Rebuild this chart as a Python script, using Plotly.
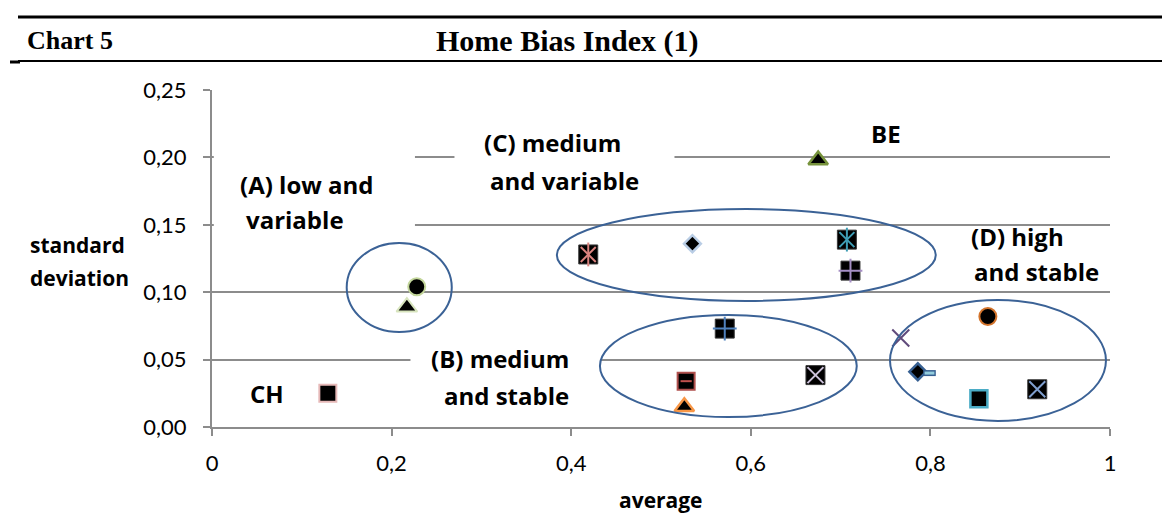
import plotly.graph_objects as go

# Home Bias Index: average vs standard deviation per country
labels = ["CH", "A1", "A2", "BE", "C1", "C2", "C3", "C4", "B1", "B2", "B3", "B4",
          "D1", "D2", "D3", "D4", "D5", "D6"]
average = [0.129, 0.228, 0.217, 0.675, 0.419, 0.535, 0.707, 0.711, 0.571, 0.528,
           0.526, 0.672, 0.767, 0.864, 0.786, 0.799, 0.854, 0.919]
std_dev = [0.025, 0.104, 0.089, 0.198, 0.128, 0.136, 0.139, 0.116, 0.073, 0.034,
           0.015, 0.0385, 0.066, 0.082, 0.041, 0.040, 0.021, 0.028]

x_ticks = [0, 0.2, 0.4, 0.6, 0.8, 1]
y_ticks = [0, 0.05, 0.10, 0.15, 0.20, 0.25]

# Marker styles: base marker, optional overlay glyphs drawn on top
styles = {
    "CH": dict(base=("square", 17, "#e6b9b8", 2)),
    "A1": dict(base=("circle", 17, "#c3d69b", 2)),
    "A2": dict(base=("triangle-up", 18, "#d7e4bd", 2)),
    "BE": dict(base=("triangle-up", 17, "#77933c", 2.5)),
    "C1": dict(base=("square", 19, "#3a3a3a", 1),
               over=[("x-thin-open", 15, "#d9827e", 2), ("line-ns-open", 17, "#d9827e", 2)]),
    "C2": dict(base=("diamond", 13, "#b9cde5", 2.5)),
    "C3": dict(base=("square", 19, "#3a3a3a", 1),
               over=[("x-thin-open", 15, "#3f9db5", 2), ("line-ns-open", 17, "#3f9db5", 2)]),
    "C4": dict(base=("square", 19, "#3a3a3a", 1),
               over=[("cross-thin-open", 17, "#a58fc4", 2)]),
    "B1": dict(base=("square", 19, "#3a3a3a", 1),
               over=[("cross-thin-open", 17, "#4f81bd", 2)]),
    "B2": dict(base=("square", 17, "#b0504d", 2),
               over=[("line-ew-open", 8, "#c0504d", 2)]),
    "B3": dict(base=("triangle-up", 17, "#f79646", 2.5)),
    "B4": dict(base=("square", 19, "#3a3a3a", 1),
               over=[("x-thin-open", 16, "#ccc1da", 2)]),
    "D1": dict(base=("x-thin-open", 17, "#604a7b", 2)),
    "D2": dict(base=("circle", 17, "#d3742c", 2)),
    "D3": dict(base=("diamond", 13, "#376092", 2.5)),
    "D4": dict(base=("line-ew-open", 9, "#376092", 6),
               over=[("line-ew-open", 7, "#93cddd", 3)]),
    "D5": dict(base=("square", 17, "#4bacc6", 2.5)),
    "D6": dict(base=("square", 19, "#3a3a3a", 1),
               over=[("x-thin-open", 16, "#7f9fcf", 2)]),
}

fig = go.Figure()

for name, xv, yv in zip(labels, average, std_dev):
    st = styles[name]
    sym, size, lc, lw = st["base"]
    is_open = sym.endswith("-open")
    fig.add_trace(go.Scatter(
        x=[xv], y=[yv], mode="markers", name=name, showlegend=False,
        marker=dict(symbol=sym, size=size,
                    color=lc if is_open else "black",
                    line=dict(color=lc, width=lw)),
    ))
    for osym, osize, oc, ow in st.get("over", []):
        fig.add_trace(go.Scatter(
            x=[xv], y=[yv], mode="markers", name=name, showlegend=False,
            hoverinfo="skip",
            marker=dict(symbol=osym, size=osize, color=oc,
                        line=dict(color=oc, width=ow)),
        ))

FIG_W, FIG_H = 1162, 513
L, R, T, B = 212, 52, 90, 86
PW, PH = FIG_W - L - R, FIG_H - T - B


def px(xp):
    return (xp - L) / PW


def py(yp):
    return (FIG_H - B - yp) / PH


ELL = "#3b6296"
shapes = [
    # group ellipses
    dict(type="circle", xref="x", yref="y", x0=0.150, x1=0.267, y0=0.0705, y1=0.1365,
         line=dict(color=ELL, width=2)),
    dict(type="circle", xref="x", yref="y", x0=0.384, x1=0.806, y0=0.0935, y1=0.1617,
         line=dict(color=ELL, width=2)),
    dict(type="circle", xref="x", yref="y", x0=0.432, x1=0.718, y0=0.0074, y1=0.0831,
         line=dict(color=ELL, width=2)),
    dict(type="circle", xref="x", yref="y", x0=0.755, x1=0.9955, y0=0.0045, y1=0.0942,
         line=dict(color=ELL, width=2)),
    # white text-box backgrounds over the gridlines
    dict(type="rect", xref="x", yref="y", x0=0.002, x1=0.226, y0=0.142, y1=0.209,
         layer="between", fillcolor="white", line=dict(width=0)),
    dict(type="rect", xref="x", yref="y", x0=0.270, x1=0.515, y0=0.19, y1=0.215,
         layer="between", fillcolor="white", line=dict(width=0)),
    dict(type="rect", xref="x", yref="y", x0=0.221, x1=0.432, y0=0.04, y1=0.06,
         layer="between", fillcolor="white", line=dict(width=0)),
    # heading rules
    dict(type="line", xref="paper", yref="paper", x0=px(18), x1=px(1162), y0=py(17), y1=py(17),
         line=dict(color="black", width=3)),
    dict(type="line", xref="paper", yref="paper", x0=px(18), x1=px(1162), y0=py(61), y1=py(61),
         line=dict(color="black", width=2)),
    dict(type="line", xref="paper", yref="paper", x0=px(10), x1=px(20), y0=py(62), y1=py(62),
         line=dict(color="black", width=3)),
]

LBL = dict(family="Open Sans", size=24, color="black")
annotations = []


def note(text, x, y, xanchor="center", xref="x", yref="y", font=LBL):
    annotations.append(dict(text=text, x=x, y=y, xref=xref, yref=yref, xanchor=xanchor,
                            yanchor="middle", showarrow=False, font=font))


note("<b>(A) low and</b>", 0.0284, 0.180, "left")
note("<b>variable</b>", 0.036, 0.154, "left")
note("<b>(C) medium</b>", 0.379, 0.211)
note("<b>and variable</b>", 0.392, 0.183)
note("<b>BE</b>", 0.750, 0.218)
note("<b>(D) high</b>", 0.897, 0.141)
note("<b>and stable</b>", 0.918, 0.115)
note("<b>(B) medium</b>", 0.321, 0.051)
note("<b>and stable</b>", 0.328, 0.0237)
note("<b>CH</b>", 0.0607, 0.0252)

AX = dict(family="Open Sans", size=21, color="black")
note("<b>standard</b>", px(28), py(245), "left", "paper", "paper", AX)
note("<b>deviation</b>", px(28), py(278), "left", "paper", "paper", AX)
note("<b>average</b>", 0.5, py(500), "center", "paper", "paper", AX)

note("<b>Chart 5</b>", px(25), py(41), "left", "paper", "paper",
     dict(family="Liberation Serif", size=26, color="black"))
note("<b>Home Bias Index (1)</b>", px(567), py(41), "center", "paper", "paper",
     dict(family="Liberation Serif", size=30, color="black"))

GRID = "#8c8c8c"
TICKF = dict(family="Lato", size=22, color="black")

fig.update_layout(
    width=FIG_W, height=FIG_H,
    margin=dict(l=L, r=R, t=T, b=B, pad=0),
    paper_bgcolor="white", plot_bgcolor="white",
    separators=", ",
    showlegend=False,
    shapes=shapes,
    annotations=annotations,
    xaxis=dict(range=[0, 1], tickvals=x_ticks, showgrid=False, zeroline=False,
               showline=True, linecolor=GRID, linewidth=2,
               ticks="outside", ticklen=7, tickcolor=GRID, tickwidth=1.5,
               tickfont=TICKF, ticklabelstandoff=9, fixedrange=True),
    yaxis=dict(range=[0, 0.25], tickvals=y_ticks, tickformat=".2f",
               showgrid=True, gridcolor=GRID, gridwidth=1.5, zeroline=False,
               showline=True, linecolor=GRID, linewidth=2,
               ticks="outside", ticklen=7, tickcolor=GRID, tickwidth=1.5,
               tickfont=TICKF, ticklabelstandoff=12, fixedrange=True),
)

fig.write_html("out.html")
